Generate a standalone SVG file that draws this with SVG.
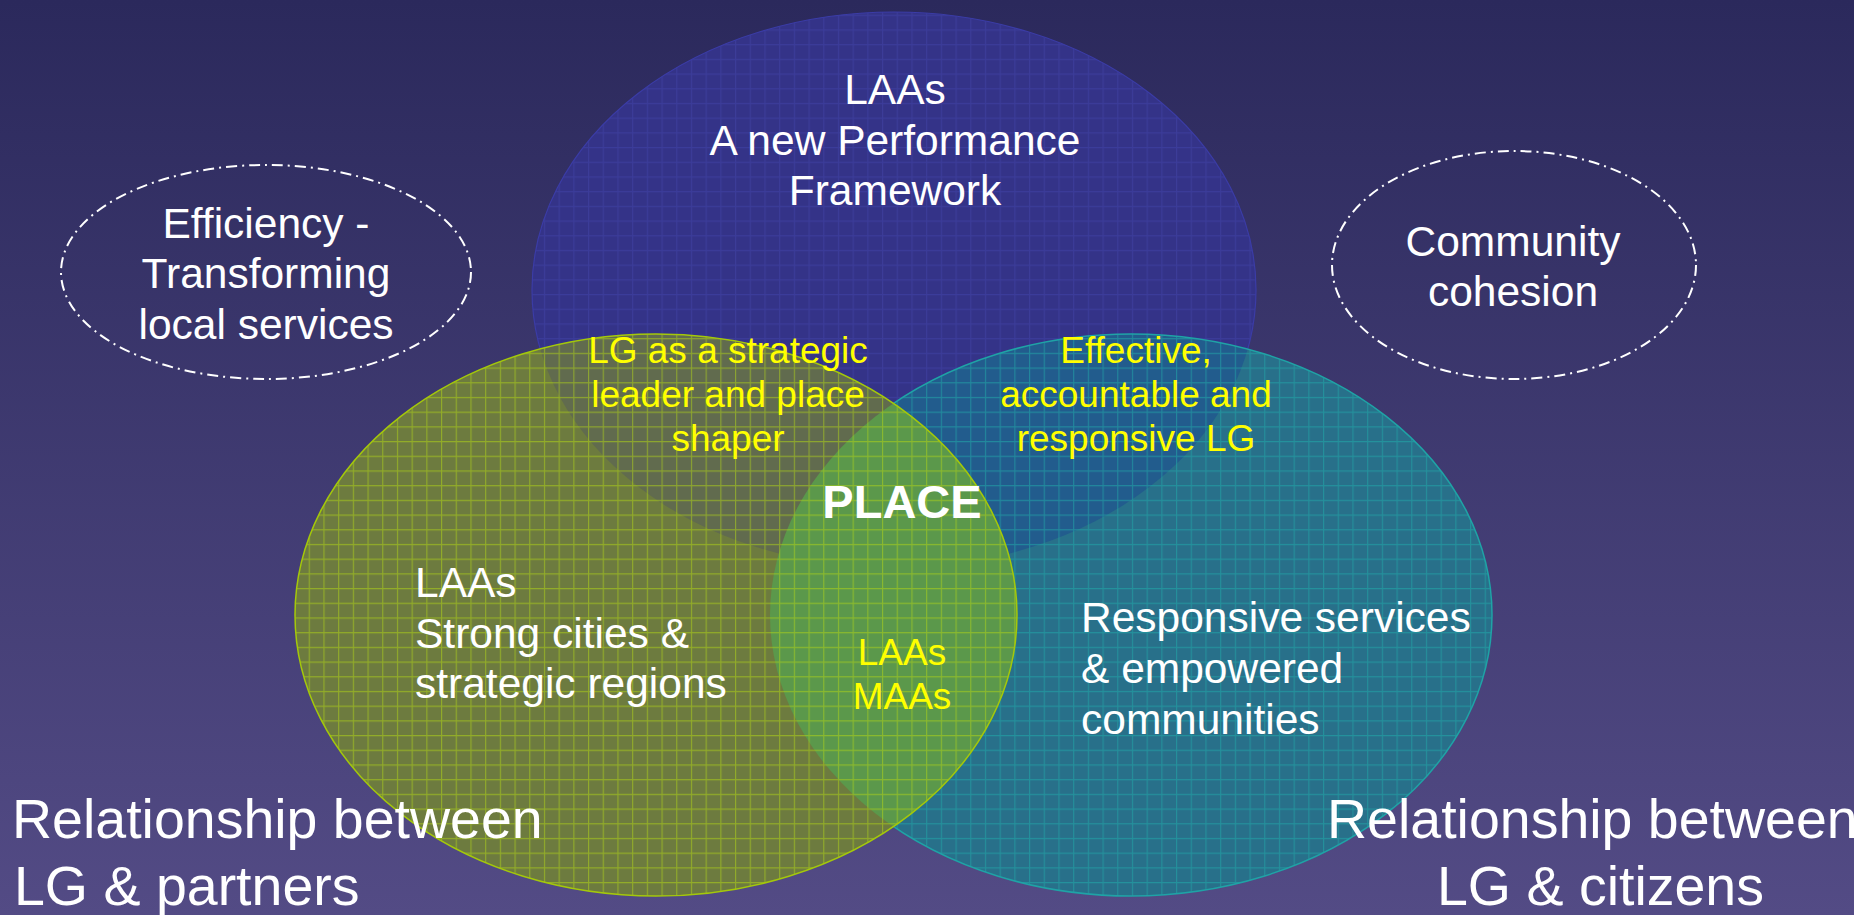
<svg xmlns="http://www.w3.org/2000/svg" width="1854" height="915" viewBox="0 0 1854 915">
<style>
.w{fill:#ffffff;font-family:"Liberation Sans",Arial,sans-serif;font-size:42.5px}
.y{fill:#ffff00;font-family:"Liberation Sans",Arial,sans-serif;font-size:37px}
.big{fill:#ffffff;font-family:"Liberation Sans",Arial,sans-serif;font-size:55.5px}
.c{text-anchor:middle}
.dash{fill:none;stroke:#ffffff;stroke-width:2;stroke-dasharray:11 5 2 5}
</style>
<defs>
<linearGradient id="bg" x1="0" y1="0" x2="0" y2="1">
<stop offset="0" stop-color="#2b295c"/>
<stop offset="1" stop-color="#534b85"/>
</linearGradient>
<pattern id="gBlue" width="14.7" height="14.7" patternUnits="userSpaceOnUse">
<path d="M0 0.6H14.7M0.6 0V14.7" stroke="#4446b0" stroke-width="1.1" stroke-opacity="0.45" fill="none"/>
</pattern>
<pattern id="gGreen" width="14.7" height="14.7" patternUnits="userSpaceOnUse">
<path d="M0 0.6H14.7M0.6 0V14.7" stroke="#b0d416" stroke-width="1.1" stroke-opacity="0.55" fill="none"/>
</pattern>
<pattern id="gTeal" width="14.7" height="14.7" patternUnits="userSpaceOnUse">
<path d="M0 0.6H14.7M0.6 0V14.7" stroke="#22a6a8" stroke-width="1.1" stroke-opacity="0.6" fill="none"/>
</pattern>
<ellipse id="eBlue" cx="894" cy="290" rx="362" ry="278"/>
<ellipse id="eGreen" cx="656" cy="615" rx="361" ry="281"/>
<ellipse id="eTeal" cx="1131" cy="615" rx="361" ry="281"/>
<clipPath id="cBlue"><use href="#eBlue"/></clipPath>
<clipPath id="cTeal"><use href="#eTeal"/></clipPath>
</defs>

<rect width="1854" height="915" fill="url(#bg)"/>

<g id="node-performance">
<use href="#eBlue" fill="#343388"/>
<use href="#eBlue" fill="url(#gBlue)" stroke="#3b3ca6" stroke-width="1.2"/>
<text class="w c" x="895" y="104">LAAs</text>
<text class="w c" x="895" y="155">A new Performance</text>
<text class="w c" x="895" y="205">Framework</text>
</g>

<g id="node-citizens">
<use href="#eTeal" fill="#28708a"/>
<use href="#eTeal" fill="#225c8d" clip-path="url(#cBlue)"/>
<use href="#eTeal" fill="url(#gTeal)" stroke="#1fa3a6" stroke-width="1.5"/>
</g>

<g id="node-partners">
<use href="#eGreen" fill="#6d7b3f"/>
<use href="#eGreen" fill="#616b4e" clip-path="url(#cBlue)"/>
<use href="#eGreen" fill="#5b984b" clip-path="url(#cTeal)"/>
<use href="#eGreen" fill="url(#gGreen)" stroke="#a4c80a" stroke-width="1.5"/>
</g>

<g id="labels-overlaps">
<text class="y c" x="728" y="363">LG as a strategic</text>
<text class="y c" x="728" y="407">leader and place</text>
<text class="y c" x="728" y="451">shaper</text>
<text class="y c" x="1136" y="363">Effective,</text>
<text class="y c" x="1136" y="407">accountable and</text>
<text class="y c" x="1136" y="451">responsive LG</text>
<text class="w c" x="902" y="518" style="font-weight:bold;font-size:47px">PLACE</text>
<text class="y c" x="902" y="665">LAAs</text>
<text class="y c" x="902" y="709">MAAs</text>
<text class="w" x="415" y="597">LAAs</text>
<text class="w" x="415" y="648">Strong cities &amp;</text>
<text class="w" x="415" y="698">strategic regions</text>
<text class="w" x="1081" y="632">Responsive services</text>
<text class="w" x="1081" y="683">&amp; empowered</text>
<text class="w" x="1081" y="734">communities</text>
</g>

<g id="node-efficiency">
<ellipse class="dash" cx="266" cy="272" rx="205" ry="107"/>
<text class="w c" x="266" y="238">Efficiency -</text>
<text class="w c" x="266" y="288">Transforming</text>
<text class="w c" x="266" y="339">local services</text>
</g>

<g id="node-community">
<ellipse class="dash" cx="1514" cy="265" rx="182" ry="114"/>
<text class="w c" x="1513" y="256">Community</text>
<text class="w c" x="1513" y="306">cohesion</text>
</g>

<g id="label-partners">
<text class="big" x="12" y="838">Relationship between</text>
<text class="big" x="14" y="905">LG &amp; partners</text>
</g>

<g id="label-citizens">
<text class="big" x="1327" y="838">Relationship between</text>
<text class="big" x="1437" y="905">LG &amp; citizens</text>
</g>

<g id="connectors"/>
</svg>
